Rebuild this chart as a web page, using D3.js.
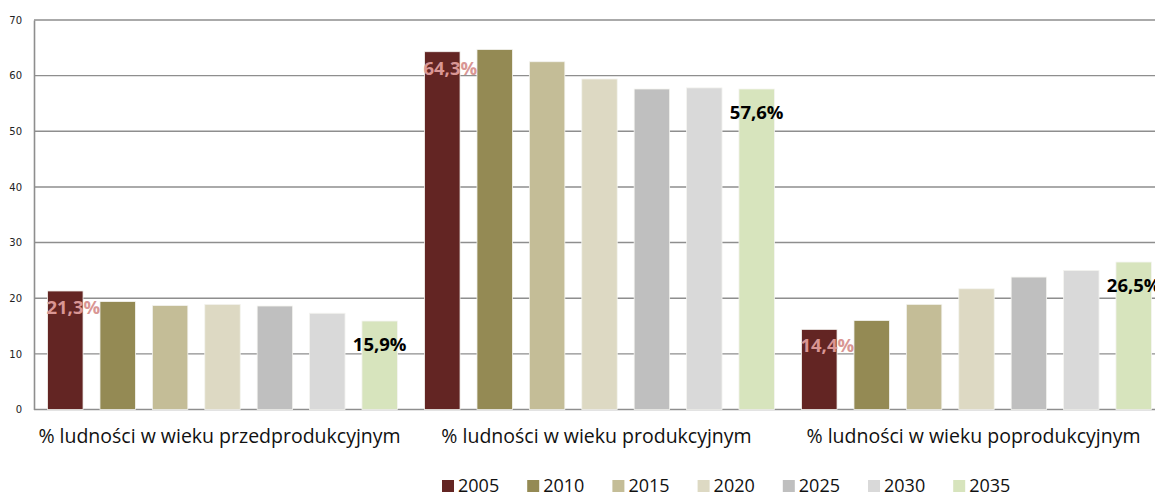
<!DOCTYPE html>
<html>
<head>
<meta charset="utf-8">
<title>Ludność wg grup wieku</title>
<script src="https://cdn.jsdelivr.net/npm/d3@7"></script>
<style>
  body { margin: 0; background: #fff; }
  svg { display: block; }
  .tick text { font-family: "DejaVu Sans", sans-serif; font-size: 10px; fill: #222; }
  .cat { font-family: "Open Sans", sans-serif; font-size: 19.5px; fill: #111; }
  .legend text { font-family: "Open Sans", sans-serif; font-size: 18px; fill: #111; }
  .lbl { font-family: "Open Sans", sans-serif; font-size: 18.5px; font-weight: bold; }
</style>
</head>
<body>
<svg width="1155" height="493"></svg>
<script>
// data
var categories = ["% ludności w wieku przedprodukcyjnym", "% ludności w wieku produkcyjnym", "% ludności w wieku poprodukcyjnym"];
var years = ["2005", "2010", "2015", "2020", "2025", "2030", "2035"];
var przed = [21.3, 19.4, 18.7, 18.9, 18.6, 17.3, 15.9];
var prod  = [64.3, 64.7, 62.5, 59.4, 57.6, 57.8, 57.6];
var popr  = [14.4, 16.0, 18.9, 21.7, 23.8, 25.0, 26.5];
var yTicks = [0, 10, 20, 30, 40, 50, 60, 70];
var colors = ["#632523", "#948a54", "#c4bd97", "#ddd9c3", "#bfbfbf", "#d9d9d9", "#d7e4bd"];

var series = [przed, prod, popr];

var svg = d3.select("svg");

// plot area runs a bit past the right edge, like the original export
var x0 = d3.scaleBand().domain(categories).range([34, 1165]).paddingInner(0).paddingOuter(0);
var x1 = d3.scaleBand().domain(years).range([0, x0.bandwidth()]).paddingInner(0.323).paddingOuter(0.259);
var y = d3.scaleLinear().domain([0, 70]).range([409.5, 20]);

// gridlines
svg.append("g")
  .selectAll("line")
  .data(yTicks)
  .enter().append("line")
    .attr("x1", 34).attr("x2", 1165)
    .attr("y1", function(d) { return y(d); })
    .attr("y2", function(d) { return y(d); })
    .attr("stroke", "#8e8e8e")
    .attr("stroke-width", 1.4);

// y axis
var yAxis = svg.append("g")
  .attr("transform", "translate(34,0)")
  .call(d3.axisLeft(y).tickValues(yTicks).tickSize(0).tickPadding(12));
yAxis.select(".domain").attr("stroke", "#8e8e8e").attr("stroke-width", 1.6);

// bars
var groups = svg.append("g")
  .selectAll("g")
  .data(categories)
  .enter().append("g")
    .attr("transform", function(d) { return "translate(" + x0(d) + ",0)"; });

groups.selectAll("rect")
  .data(function(d, i) { return series[i].map(function(v, j) { return {year: years[j], value: v, k: j}; }); })
  .enter().append("rect")
    .attr("x", function(d) { return x1(d.year); })
    .attr("y", function(d) { return y(d.value); })
    .attr("width", x1.bandwidth())
    .attr("height", function(d) { return y(0) - y(d.value); })
    .attr("fill", function(d) { return colors[d.k]; })
    .attr("stroke", "#f4f4f0")
    .attr("stroke-width", 0.8);

// value labels for first and last year
function fmt(v) { return v.toFixed(1).replace(".", ",") + "%"; }

groups.append("text")
  .attr("class", "lbl")
  .attr("text-anchor", "middle")
  .attr("fill", "#d99694")
  .attr("x", function(d, i) { return x1(years[0]) + x1.bandwidth() / 2 + 8; })
  .attr("y", function(d, i) { return y(series[i][0]) + 23; })
  .text(function(d, i) { return fmt(series[i][0]); });

groups.append("text")
  .attr("class", "lbl")
  .attr("text-anchor", "middle")
  .attr("fill", "#000")
  .attr("x", function(d, i) { return x1(years[6]) + x1.bandwidth() / 2; })
  .attr("y", function(d, i) { return y(series[i][6]) + 30; })
  .text(function(d, i) { return fmt(series[i][6]); });

// category labels
groups.append("text")
  .attr("class", "cat")
  .attr("text-anchor", "middle")
  .attr("x", x0.bandwidth() / 2 - 3)
  .attr("y", 443)
  .text(function(d) { return d; });

// legend
var legend = svg.append("g")
  .attr("class", "legend")
  .selectAll("g")
  .data(years)
  .enter().append("g")
    .attr("transform", function(d, i) { return "translate(" + (442 + i * 85.2) + ",480)"; });

legend.append("rect")
  .attr("width", 12).attr("height", 12)
  .attr("fill", function(d, i) { return colors[i]; });

legend.append("text")
  .attr("x", 16)
  .attr("y", 12)
  .text(function(d) { return d; });
</script>
</body>
</html>
